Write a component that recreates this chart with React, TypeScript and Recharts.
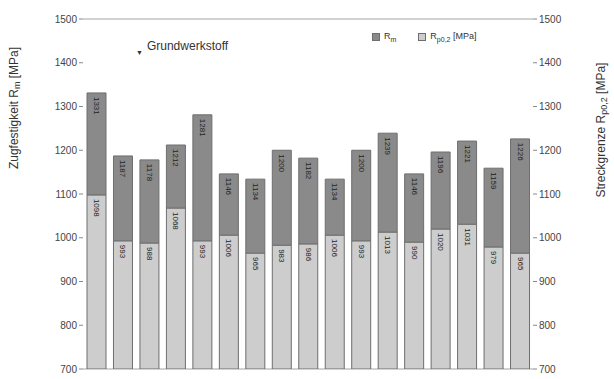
import { Bar, BarChart, CartesianGrid, LabelList, XAxis, YAxis } from 'recharts'

// Rm and Rp0,2 per specimen (MPa)
const specimens = ['1', '2', '3', '4', '5', '6', '7', '8', '9', '10', '11', '12', '13', '14', '15', '16', '17']
const rmValues = [1331, 1187, 1178, 1212, 1281, 1146, 1134, 1200, 1182, 1134, 1200, 1239, 1146, 1196, 1221, 1159, 1226]
const rpValues = [1098, 993, 988, 1068, 993, 1006, 965, 983, 986, 1006, 993, 1013, 990, 1020, 1031, 979, 965]
const yTicks = [700, 800, 900, 1000, 1100, 1200, 1300, 1400, 1500]

const DARK = '#8a8a8a'
const LIGHT = '#cdcdcd'
const EDGE = '#6e6e6e'
const FONT = '"Liberation Sans", Arial, sans-serif'

const data = specimens.map((s, i) => ({
  name: s,
  rp: rpValues[i],
  diff: rmValues[i] - rpValues[i],
  rm: rmValues[i],
}))

function BarText(props: any) {
  const { x, y, width, value } = props
  const cx = Number(x) + Number(width) / 2
  const ty = Number(y) + 4
  return (
    <text
      x={cx}
      y={ty}
      transform={`rotate(90 ${cx} ${ty})`}
      textAnchor="start"
      dominantBaseline="central"
      style={{ fontFamily: FONT, fontSize: 8 }}
      fill="#222"
    >
      {value}
    </text>
  )
}

function AxisTitle({ x, y, main, sub }: { x: number; y: number; main: string; sub: string }) {
  return (
    <text
      x={x}
      y={y}
      transform={`rotate(-90 ${x} ${y})`}
      textAnchor="middle"
      dominantBaseline="central"
      style={{ fontFamily: FONT, fontSize: 12 }}
      fill="#333"
    >
      {main}
      <tspan style={{ fontSize: 9 }} dy={3}>{sub}</tspan>
      <tspan dy={-3}> [MPa]</tspan>
    </text>
  )
}

export default function App() {
  const tickStyle = { fontSize: 10, fill: '#444', fontFamily: FONT }
  return (
    <div style={{ position: 'absolute', left: 0, top: 0, width: 614, height: 379, background: '#fff', fontFamily: FONT }}>
      <BarChart
        width={614}
        height={379}
        data={data}
        margin={{ top: 19, right: 0, left: 0, bottom: 10 }}
        barSize={19}
      >
        <CartesianGrid stroke="#a4a4a4" vertical={false} />
        <XAxis dataKey="name" hide />
        <YAxis
          yAxisId="left"
          width={83}
          domain={[700, 1500]}
          ticks={yTicks}
          allowDataOverflow
          axisLine={false}
          tickLine={{ stroke: '#888' }}
          tickSize={4}
          tick={tickStyle}
          label={{ content: () => <AxisTitle x={14} y={108} main="Zugfestigkeit R" sub="m" /> }}
        />
        <YAxis
          yAxisId="right"
          orientation="right"
          width={81}
          domain={[700, 1500]}
          ticks={yTicks}
          allowDataOverflow
          axisLine={false}
          tickLine={{ stroke: '#888' }}
          tickSize={4}
          tick={tickStyle}
          label={{ content: () => <AxisTitle x={601} y={130} main="Streckgrenze R" sub="p0,2" /> }}
        />
        <Bar yAxisId="left" dataKey="rp" stackId="s" fill={LIGHT} stroke={EDGE} strokeWidth={1} isAnimationActive={false}>
          <LabelList dataKey="rp" content={BarText} />
        </Bar>
        <Bar yAxisId="left" dataKey="diff" stackId="s" fill={DARK} stroke={EDGE} strokeWidth={1} isAnimationActive={false}>
          <LabelList dataKey="rm" content={BarText} />
        </Bar>
      </BarChart>

      {/* legend */}
      <div style={{ position: 'absolute', left: 372, top: 31, fontSize: 9, color: '#333', display: 'flex', alignItems: 'center' }}>
        <span style={{ width: 6, height: 6, background: DARK, border: `1px solid ${EDGE}`, marginRight: 4 }} />
        <span>R<sub style={{ fontSize: 7 }}>m</sub></span>
        <span style={{ width: 6, height: 6, background: LIGHT, border: `1px solid ${EDGE}`, marginLeft: 22, marginRight: 4 }} />
        <span>R<sub style={{ fontSize: 7 }}>p0,2</sub> [MPa]</span>
      </div>

      {/* annotation */}
      <div style={{ position: 'absolute', left: 136, top: 39, fontSize: 12, color: '#333', display: 'flex', alignItems: 'flex-end' }}>
        <span style={{ fontSize: 7, marginRight: 4, marginBottom: -3 }}>▼</span>
        <span>Grundwerkstoff</span>
      </div>
    </div>
  )
}
